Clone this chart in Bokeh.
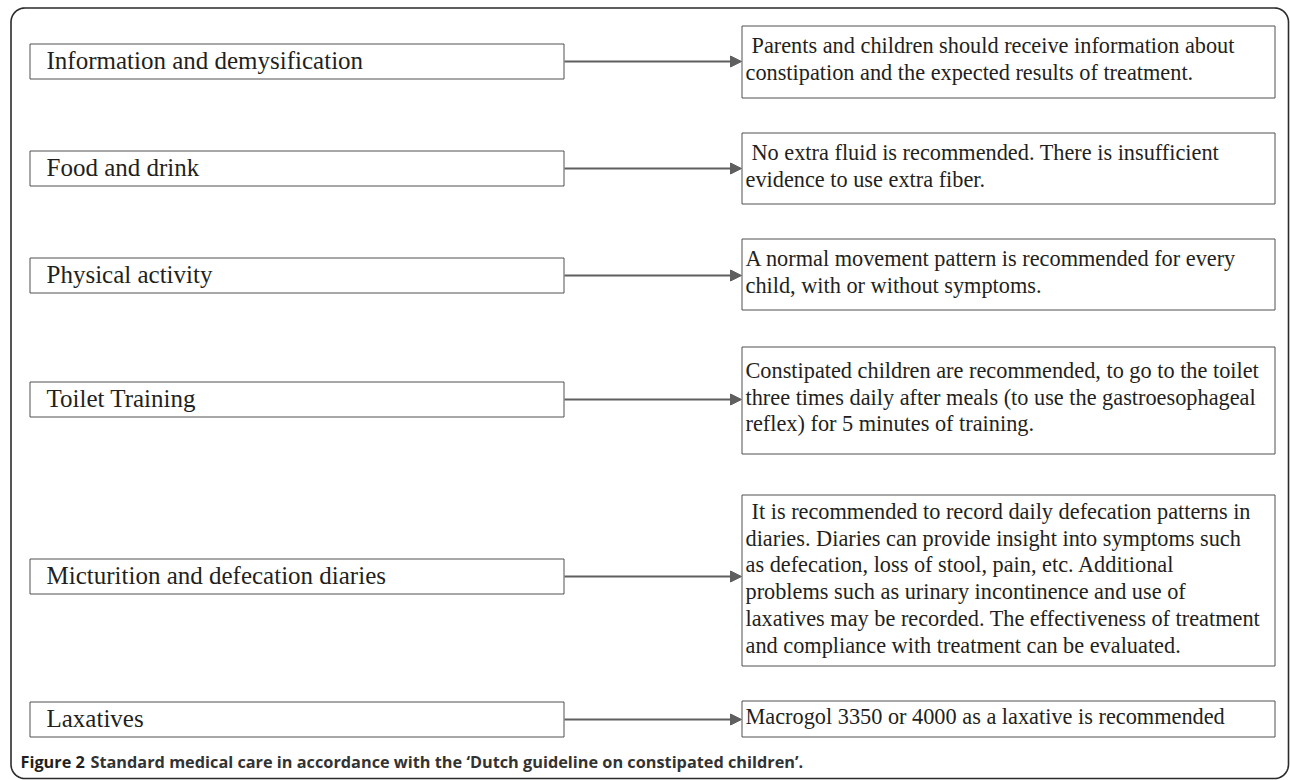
import numpy as np
from bokeh.plotting import figure
from bokeh.models import Range1d, ColumnDataSource, Arrow, NormalHead
from bokeh.core.properties import value
from bokeh.embed import file_html
from bokeh.resources import INLINE

# ---- content ----
categories = [
    "Information and demysification",
    "Food and drink",
    "Physical activity",
    "Toilet Training",
    "Micturition and defecation diaries",
    "Laxatives",
]
descriptions = [
    [" Parents and children should receive information about",
     "constipation and the expected results of treatment."],
    [" No extra fluid is recommended. There is insufficient",
     "evidence to use extra fiber."],
    ["A normal movement pattern is recommended for every",
     "child, with or without symptoms."],
    ["Constipated children are recommended, to go to the toilet",
     "three times daily after meals (to use the gastroesophageal",
     "reflex) for 5 minutes of training."],
    [" It is recommended to record daily defecation patterns in",
     "diaries. Diaries can provide insight into symptoms such",
     "as defecation, loss of stool, pain, etc. Additional",
     "problems such as urinary incontinence and use of",
     "laxatives may be recorded. The effectiveness of treatment",
     "and compliance with treatment can be evaluated."],
    ["Macrogol 3350 or 4000 as a laxative is recommended"],
]
caption_bold = "Figure 2"
caption_rest = "Standard medical care in accordance with the \u2018Dutch guideline on constipated children\u2019."

# ---- layout (pixels) ----
W, H = 1290, 780
LX0, LX1 = 29, 563
RX0, RX1 = 741, 1274
left_tops = [43, 150, 257, 381, 558, 701]
LH = 35
right_tops = [25, 132, 238, 346, 494, 700]
right_bottoms = [97, 203, 309, 453, 665, 736]
first_baseline = [52, 159, 265, 377, 518, 723]
LINE_GAP = 26.7
TEXT_SHIFT_L = 8.0   # compensation for renderer's baseline placement
TEXT_SHIFT_R = 7.0

SERIF = value("Liberation Serif")
INK = "#231f20"
BOX_LINE = "#505050"

p = figure(width=W, height=H, output_backend="svg", toolbar_location=None,
           x_range=Range1d(0, W), y_range=Range1d(H, 0),
           min_border=0, outline_line_color=None, background_fill_color="white",
           border_fill_color="white")
p.xaxis.visible = False
p.yaxis.visible = False
p.grid.visible = False

# outer rounded frame
r = 14
x0, y0, x1, y1 = 10.5, 7.5, 1288, 778
t = np.linspace(0, np.pi / 2, 12)
xs, ys = [], []
xs += list(x0 + r - r * np.cos(t)); ys += list(y0 + r - r * np.sin(t))
xs += list(x1 - r + r * np.sin(t)); ys += list(y0 + r - r * np.cos(t))
xs += list(x1 - r + r * np.cos(t)); ys += list(y1 - r + r * np.sin(t))
xs += list(x0 + r - r * np.sin(t)); ys += list(y1 - r + r * np.cos(t))
xs.append(xs[0]); ys.append(ys[0])
p.line(xs, ys, line_color="#2b2b2b", line_width=1.6)

# left boxes
lt = np.array(left_tops, dtype=float)
left_src = ColumnDataSource(dict(
    left=[LX0 + 0.5] * len(categories), right=[LX1 + 0.5] * len(categories),
    top=lt + 0.5, bottom=lt + LH + 0.5,
    tx=[46] * len(categories), ty=lt + LH / 2 + 7.5 - TEXT_SHIFT_L, label=categories))
p.quad(left="left", right="right", top="top", bottom="bottom", source=left_src,
       fill_color="white", line_color=BOX_LINE, line_width=1)
p.text(x="tx", y="ty", text="label", source=left_src, text_font=SERIF,
       text_font_size="25px", text_baseline="alphabetic", text_align="left",
       text_color=INK)

# right boxes
p.quad(left=[RX0 + 0.5] * len(descriptions), right=[RX1 + 0.5] * len(descriptions),
       top=[v + 0.5 for v in right_tops], bottom=[v + 0.5 for v in right_bottoms],
       fill_color="white", line_color=BOX_LINE, line_width=1)

tx, ty, tt = [], [], []
for i, lines in enumerate(descriptions):
    for j, line in enumerate(lines):
        off = 6 if line.startswith(" ") else 0
        tx.append(RX0 + 4 + off)
        ty.append(first_baseline[i] + j * LINE_GAP - TEXT_SHIFT_R)
        tt.append(line.strip())
p.text(x=tx, y=ty, text=tt, text_font=SERIF, text_font_size="22.3px",
       text_baseline="alphabetic", text_align="left", text_color=INK)

# arrows
ay = lt + LH / 2 + 0.5
arrow_src = ColumnDataSource(dict(xs=[LX1 + 1] * len(ay), xe=[RX0] * len(ay), ys=ay, ye=ay))
p.add_layout(Arrow(end=NormalHead(size=11, fill_color="#5f5f5f", line_color="#5f5f5f"),
                   x_start="xs", y_start="ys", x_end="xe", y_end="ye", source=arrow_src,
                   line_color="#5f5f5f", line_width=2))

# caption
SANS = value("Open Sans")
CAP_Y = 768 - 7
p.text(x=[20], y=[CAP_Y], text=[caption_bold], text_font=SANS, text_font_size="16.3px",
       text_font_style="bold", text_baseline="alphabetic", text_color=INK)
p.text(x=[90], y=[CAP_Y], text=[caption_rest], text_font=SANS, text_font_size="16.3px",
       text_font_style="bold", text_baseline="alphabetic", text_color="#333333")

open("out.html", "w").write(file_html(p, INLINE))
